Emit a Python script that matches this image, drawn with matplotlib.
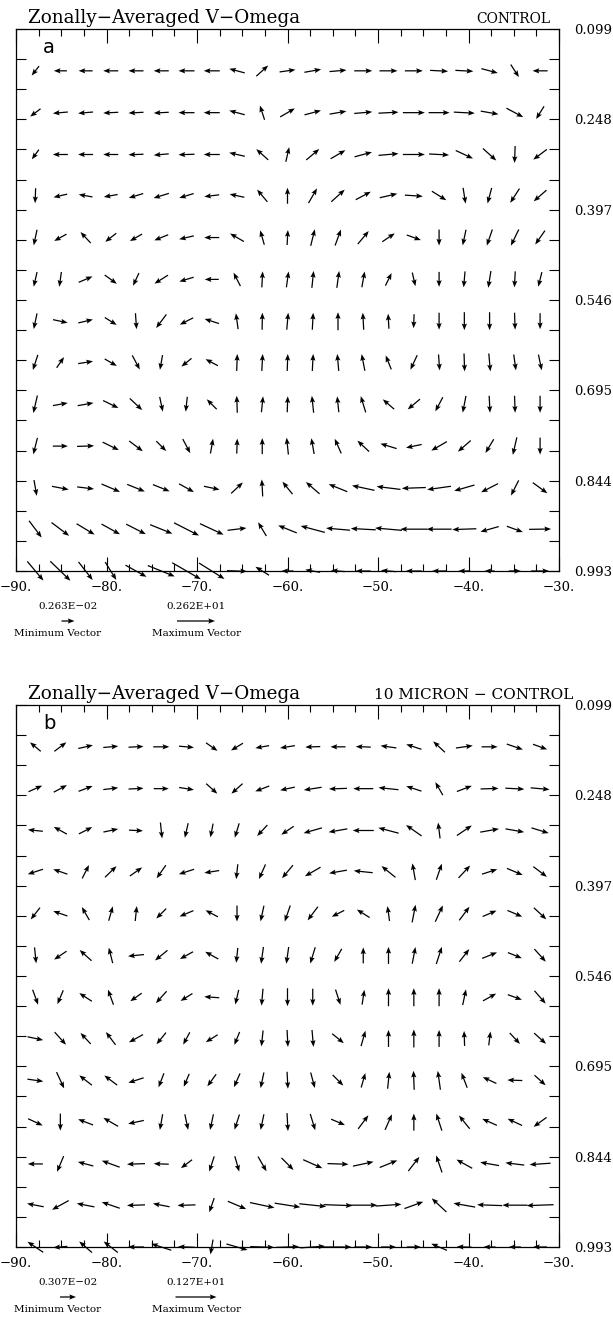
import matplotlib
matplotlib.use('Agg')
import matplotlib.pyplot as plt
import numpy as np

# T42 gaussian latitudes (southern hemisphere) and sigma levels
lats = [-87.86, -85.10, -82.31, -79.53, -76.74, -73.95, -71.16, -68.37, -65.58,
        -62.79, -60.00, -57.21, -54.42, -51.63, -48.84, -46.04, -43.25, -40.46,
        -37.67, -34.88, -32.09]
levels = [0.168, 0.237, 0.306, 0.374, 0.443, 0.512, 0.581, 0.649, 0.718,
          0.787, 0.856, 0.924, 0.993]

xticks = [-90, -80, -70, -60, -50, -40, -30]
xlabels = ['\u221290.', '\u221280.', '\u221270.', '\u221260.', '\u221250.', '\u221240.', '\u221230.']
yticks = [0.099, 0.248, 0.397, 0.546, 0.695, 0.844, 0.993]
ylabels = ['0.099', '0.248', '0.397', '0.546', '0.695', '0.844', '0.993']

# arrow direction as seen on the page (deg, 0 = right, 90 = up)
dir_a = [
    [232, 180, 180, 180, 180, 180, 180, 180, 165, 42, 8, 10, 5, 0, 0, 0, 357, 357, 345, 303, 180],
    [217, 185, 185, 183, 183, 183, 180, 180, 165, 108, 30, 15, 10, 5, 3, 0, 0, 357, 350, 332, 238],
    [234, 180, 180, 180, 182, 185, 182, 180, 167, 138, 77, 40, 30, 15, 5, 0, 357, 335, 318, 268, 217],
    [268, 193, 170, 190, 197, 197, 197, 187, 168, 130, 90, 60, 42, 28, 13, 356, 328, 279, 255, 237, 221],
    [258, 209, 133, 218, 210, 202, 193, 180, 150, 106, 87, 76, 70, 50, 34, 340, 270, 258, 251, 244, 235],
    [257, 262, 23, 324, 245, 212, 197, 180, 117, 87, 82, 84, 82, 80, 64, 283, 270, 265, 261, 267, 256],
    [258, 348, 13, 328, 274, 233, 207, 162, 98, 89, 85, 87, 90, 93, 93, 268, 270, 270, 270, 272, 270],
    [252, 55, 9, 330, 298, 260, 219, 152, 88, 87, 88, 87, 95, 101, 112, 245, 274, 272, 275, 278, 282],
    [257, 10, 10, 334, 317, 282, 264, 135, 92, 84, 88, 96, 96, 107, 139, 220, 242, 259, 273, 272, 270],
    [256, 0, 2, 334, 323, 315, 298, 80, 88, 90, 96, 100, 114, 137, 163, 192, 210, 221, 239, 257, 270],
    [280, 349, 353, 337, 338, 338, 331, 348, 43, 93, 129, 139, 158, 168, 173, 182, 188, 196, 207, 243, 324],
    [307, 323, 329, 331, 333, 338, 333, 335, 7, 121, 158, 165, 175, 177, 175, 180, 180, 182, 196, 340, 1],
    [310, 316, 308, 302, 331, 338, 330, 328, 358, 148, 180, 170, 175, 180, 175, 180, 180, 180, 180, 0, 0],
]
# relative arrow length
len_a = [
    [12, 13, 14, 15, 15, 15, 16, 16, 16, 16, 16, 17, 17, 18, 18, 18, 18, 18, 17, 15, 15],
    [13, 15, 15, 15, 15, 15, 16, 16, 16, 15, 17, 17, 17, 18, 20, 22, 21, 21, 18, 19, 15],
    [12, 15, 15, 15, 15, 15, 16, 16, 16, 16, 15, 17, 17, 18, 20, 22, 20, 19, 18, 17, 17],
    [15, 14, 14, 14, 15, 16, 15, 15, 15, 16, 16, 17, 18, 17, 18, 18, 17, 16, 16, 17, 17],
    [16, 14, 15, 14, 14, 15, 15, 15, 16, 15, 15, 17, 17, 17, 15, 15, 16, 16, 17, 18, 17],
    [15, 15, 15, 15, 14, 16, 15, 14, 15, 16, 16, 17, 17, 16, 14, 14, 15, 16, 17, 16, 15],
    [16, 15, 15, 14, 16, 17, 15, 15, 16, 17, 17, 17, 18, 17, 15, 14, 17, 18, 18, 17, 16],
    [16, 13, 15, 14, 16, 15, 13, 14, 17, 17, 17, 17, 17, 17, 15, 16, 16, 18, 18, 16, 16],
    [18, 15, 16, 17, 17, 15, 15, 14, 17, 16, 16, 17, 16, 17, 15, 16, 16, 17, 17, 17, 17],
    [17, 15, 17, 18, 17, 14, 16, 15, 15, 16, 17, 16, 16, 16, 17, 16, 18, 17, 16, 18, 17],
    [16, 17, 17, 20, 19, 18, 17, 16, 16, 17, 16, 18, 20, 23, 24, 24, 24, 21, 19, 17, 18],
    [21, 22, 21, 21, 22, 24, 28, 26, 19, 16, 20, 25, 24, 25, 27, 27, 25, 24, 19, 17, 22],
    [25, 28, 23, 21, 24, 29, 33, 30, 20, 16, 12, 15, 14, 15, 15, 16, 14, 12, 10, 12, 18],
]

dir_b = [
    [140, 37, 13, 5, 3, 0, 355, 325, 211, 190, 189, 182, 180, 178, 172, 162, 137, 8, 0, 341, 340],
    [24, 28, 21, 7, 3, 0, 351, 318, 222, 201, 192, 189, 182, 180, 174, 162, 120, 21, 2, 357, 355],
    [174, 151, 27, 12, 357, 276, 257, 259, 253, 227, 214, 196, 190, 180, 165, 145, 97, 34, 10, 350, 343],
    [198, 161, 63, 44, 35, 235, 198, 189, 264, 246, 230, 210, 190, 174, 141, 100, 71, 47, 18, 337, 323],
    [232, 161, 120, 74, 84, 225, 203, 152, 270, 258, 251, 233, 207, 148, 98, 79, 65, 53, 23, 337, 317],
    [276, 214, 138, 104, 186, 219, 209, 151, 264, 262, 262, 253, 240, 90, 90, 79, 72, 52, 22, 338, 312],
    [290, 247, 147, 110, 215, 228, 212, 176, 257, 265, 270, 270, 288, 81, 90, 90, 90, 78, 29, 340, 311],
    [348, 312, 133, 127, 209, 231, 242, 212, 248, 264, 273, 275, 321, 74, 90, 90, 90, 92, 83, 313, 318],
    [352, 295, 142, 143, 198, 249, 247, 234, 246, 258, 273, 285, 315, 74, 84, 92, 98, 111, 155, 178, 318],
    [335, 270, 159, 150, 192, 260, 282, 258, 252, 258, 273, 287, 337, 53, 66, 90, 108, 129, 156, 155, 216],
    [180, 247, 165, 160, 182, 178, 217, 252, 286, 300, 315, 336, 358, 12, 22, 52, 109, 151, 170, 173, 184],
    [169, 209, 169, 161, 182, 169, 182, 251, 337, 348, 351, 354, 358, 0, 4, 20, 137, 170, 178, 180, 182],
    [146, 185, 139, 142, 180, 162, 178, 260, 344, 358, 2, 4, 0, 0, 0, 0, 157, 178, 180, 180, 180],
]
len_b = [
    [14, 15, 15, 15, 15, 16, 15, 14, 14, 14, 15, 15, 15, 15, 16, 16, 16, 17, 16, 17, 15],
    [15, 15, 15, 15, 15, 15, 15, 15, 15, 15, 15, 18, 18, 20, 20, 16, 15, 16, 18, 19, 19],
    [15, 15, 15, 15, 14, 16, 15, 14, 15, 15, 15, 19, 19, 21, 21, 19, 16, 18, 19, 19, 18],
    [16, 15, 15, 16, 15, 16, 16, 15, 15, 16, 17, 18, 18, 19, 18, 17, 17, 17, 16, 17, 17],
    [15, 15, 15, 15, 15, 14, 15, 14, 16, 16, 17, 17, 14, 15, 15, 18, 18, 17, 15, 16, 17],
    [16, 15, 16, 16, 16, 16, 15, 15, 15, 17, 17, 17, 15, 16, 17, 17, 18, 16, 16, 15, 17],
    [16, 15, 15, 16, 14, 16, 14, 15, 15, 17, 18, 17, 16, 15, 18, 18, 18, 16, 15, 15, 17],
    [16, 17, 15, 16, 16, 15, 14, 14, 14, 16, 17, 17, 15, 16, 17, 18, 17, 15, 14, 15, 16],
    [16, 18, 16, 16, 16, 15, 14, 15, 15, 16, 17, 16, 15, 15, 17, 19, 19, 16, 15, 15, 15],
    [16, 17, 16, 17, 16, 16, 16, 16, 16, 16, 18, 17, 15, 17, 17, 17, 18, 17, 16, 16, 16],
    [15, 17, 16, 19, 18, 15, 14, 16, 16, 17, 17, 21, 21, 21, 19, 18, 18, 18, 19, 19, 21],
    [17, 19, 18, 19, 18, 17, 18, 15, 20, 25, 26, 27, 29, 28, 26, 20, 20, 22, 25, 25, 27],
    [19, 14, 17, 18, 16, 21, 17, 15, 22, 24, 23, 25, 27, 18, 15, 14, 17, 15, 12, 12, 14],
]

panels = [
    dict(tag='a', right='CONTROL', dirs=dir_a, lens=len_a,
         kmin=13, kmax=38, lmin='0.263E\u221202', lmax='0.262E+01'),
    dict(tag='b', right='10 MICRON \u2212 CONTROL', dirs=dir_b, lens=len_b,
         kmin=16, kmax=41, lmin='0.307E\u221202', lmax='0.127E+01'),
]

W, H = 613, 1319
fig = plt.figure(figsize=(W / 100, H / 100), dpi=100)
serif = 'DejaVu Serif'

for i, p in enumerate(panels):
    top = 29 + 676 * i
    bot = top + 542
    ax = fig.add_axes([16 / W, 1 - bot / H, 543 / W, 542 / H])
    ax.set_xlim(-90, -30)
    ax.set_ylim(0.993, 0.099)

    X, Y = np.meshgrid(lats, levels)
    ang = np.deg2rad(np.array(p['dirs'], dtype=float))
    L = np.array(p['lens'], dtype=float)
    U = L * np.cos(ang)
    V = L * np.sin(ang)
    Q = ax.quiver(X, Y, U, V, angles='uv', scale_units='dots', scale=1,
                  pivot='middle', units='dots', width=1.25, headwidth=4.2,
                  headlength=5.4, headaxislength=4.6, color='black',
                  clip_on=False, zorder=3)

    ax.set_xticks(xticks)
    ax.set_xticklabels(xlabels, fontfamily=serif, fontsize=9.5)
    ax.set_xticks(np.arange(-90, -29, 2.5), minor=True)
    ax.set_yticks(yticks)
    ax.set_yticklabels(ylabels, fontfamily=serif, fontsize=9.5)
    ax.set_yticks(np.arange(0.099 + 0.149 / 3, 0.99, 0.149 / 3), minor=True)
    ax.tick_params(axis='x', which='major', direction='in', length=10, width=0.8,
                   top=True, bottom=True, pad=7)
    ax.tick_params(axis='x', which='minor', direction='in', length=5, width=0.8,
                   top=True, bottom=True)
    ax.tick_params(axis='y', which='both', direction='in', length=7, width=0.8,
                   left=True, right=True, labelleft=False, labelright=True, pad=11)
    for s in ax.spines.values():
        s.set_linewidth(0.9)

    fig.text(28 / W, 1 - (top - 6) / H, 'Zonally\u2212Averaged V\u2212Omega',
             fontfamily=serif, fontsize=13.2, va='baseline', ha='left')
    if i == 0:
        fig.text(550 / W, 1 - (top - 6) / H, p['right'], fontfamily=serif,
                 fontsize=10, va='baseline', ha='right')
    else:
        fig.text(573 / W, 1 - (top - 6) / H, p['right'], fontfamily=serif,
                 fontsize=11, va='baseline', ha='right')
    ax.text(0.05, 0.956, p['tag'], transform=ax.transAxes, fontsize=14,
            va='baseline', ha='left')

    # reference vectors below the panel
    yk = 1 - (bot + 50) / H
    ax.quiverkey(Q, 68 / W, yk, p['kmin'], p['lmin'], labelpos='N',
                 coordinates='figure', labelsep=0.1,
                 fontproperties={'family': serif, 'size': 7.5})
    ax.quiverkey(Q, 196 / W, yk, p['kmax'], p['lmax'], labelpos='N',
                 coordinates='figure', labelsep=0.1,
                 fontproperties={'family': serif, 'size': 7.5})
    fig.text(58 / W, 1 - (bot + 63) / H, 'Minimum Vector', fontfamily=serif,
             fontsize=7.5, ha='center', va='center')
    fig.text(197 / W, 1 - (bot + 63) / H, 'Maximum Vector', fontfamily=serif,
             fontsize=7.5, ha='center', va='center')

fig.savefig('out.png', dpi=100)
